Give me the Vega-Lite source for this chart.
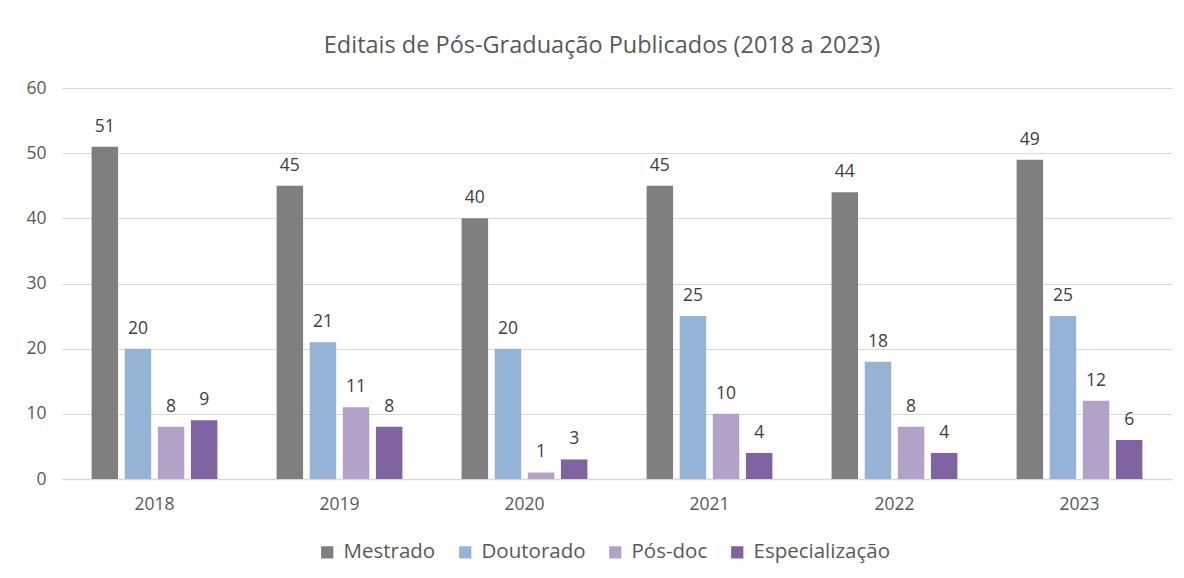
{
  "$schema": "https://vega.github.io/schema/vega-lite/v6.json",
  "width": 1110,
  "height": 391,
  "autosize": {"type": "none"},
  "padding": {"left": 62, "top": 88, "right": 12, "bottom": 99},
  "background": "white",
  "title": {
    "text": "Editais de Pós-Graduação Publicados (2018 a 2023)",
    "font": "Open Sans",
    "fontSize": 23.5,
    "fontWeight": "normal",
    "color": "#595959",
    "anchor": "middle",
    "offset": 22,
    "dx": -15
  },
  "data": {
    "values": [
      {"ano": "2018", "tipo": "Mestrado", "valor": 51},
      {"ano": "2018", "tipo": "Doutorado", "valor": 20},
      {"ano": "2018", "tipo": "Pós-doc", "valor": 8},
      {"ano": "2018", "tipo": "Especialização", "valor": 9},
      {"ano": "2019", "tipo": "Mestrado", "valor": 45},
      {"ano": "2019", "tipo": "Doutorado", "valor": 21},
      {"ano": "2019", "tipo": "Pós-doc", "valor": 11},
      {"ano": "2019", "tipo": "Especialização", "valor": 8},
      {"ano": "2020", "tipo": "Mestrado", "valor": 40},
      {"ano": "2020", "tipo": "Doutorado", "valor": 20},
      {"ano": "2020", "tipo": "Pós-doc", "valor": 1},
      {"ano": "2020", "tipo": "Especialização", "valor": 3},
      {"ano": "2021", "tipo": "Mestrado", "valor": 45},
      {"ano": "2021", "tipo": "Doutorado", "valor": 25},
      {"ano": "2021", "tipo": "Pós-doc", "valor": 10},
      {"ano": "2021", "tipo": "Especialização", "valor": 4},
      {"ano": "2022", "tipo": "Mestrado", "valor": 44},
      {"ano": "2022", "tipo": "Doutorado", "valor": 18},
      {"ano": "2022", "tipo": "Pós-doc", "valor": 8},
      {"ano": "2022", "tipo": "Especialização", "valor": 4},
      {"ano": "2023", "tipo": "Mestrado", "valor": 49},
      {"ano": "2023", "tipo": "Doutorado", "valor": 25},
      {"ano": "2023", "tipo": "Pós-doc", "valor": 12},
      {"ano": "2023", "tipo": "Especialização", "valor": 6}
    ]
  },
  "encoding": {
    "x": {
      "field": "ano",
      "type": "nominal",
      "scale": {"paddingInner": 0.32, "paddingOuter": 0.16},
      "axis": {
        "title": null,
        "labelAngle": 0,
        "labelFont": "Open Sans",
        "labelFontSize": 17.5,
        "labelColor": "#595959",
        "labelPadding": 16,
        "ticks": false,
        "domainColor": "#d9d9d9",
        "domainWidth": 1.5,
        "grid": false
      }
    },
    "xOffset": {
      "field": "tipo",
      "type": "nominal",
      "sort": ["Mestrado", "Doutorado", "Pós-doc", "Especialização"],
      "scale": {"paddingInner": 0.2, "paddingOuter": 0}
    },
    "y": {
      "field": "valor",
      "type": "quantitative",
      "scale": {"domain": [0, 60]},
      "axis": {
        "title": null,
        "values": [0, 10, 20, 30, 40, 50, 60],
        "labelFont": "Open Sans",
        "labelFontSize": 17.5,
        "labelColor": "#595959",
        "labelPadding": 16,
        "ticks": false,
        "domain": false,
        "gridColor": "#d9d9d9",
        "gridWidth": 1.2
      }
    }
  },
  "layer": [
    {
      "mark": {"type": "bar"},
      "encoding": {
        "color": {
          "field": "tipo",
          "type": "nominal",
          "sort": ["Mestrado", "Doutorado", "Pós-doc", "Especialização"],
          "scale": {
            "domain": ["Mestrado", "Doutorado", "Pós-doc", "Especialização"],
            "range": ["#7f7f7f", "#95b3d7", "#b3a2c7", "#8064a2"]
          },
          "legend": {
            "title": null,
            "orient": "none",
            "direction": "horizontal",
            "legendX": 255,
            "legendY": 454,
            "symbolType": "square",
            "symbolSize": 150,
            "symbolStrokeWidth": 0,
            "labelFont": "Open Sans",
            "labelFontSize": 20.5,
            "labelColor": "#595959",
            "labelOffset": 6,
            "columnPadding": 19
          }
        }
      }
    },
    {
      "mark": {
        "type": "text",
        "baseline": "alphabetic",
        "dy": -15,
        "font": "Open Sans",
        "fontSize": 17.5,
        "color": "#404040"
      },
      "encoding": {
        "text": {"field": "valor", "type": "quantitative"}
      }
    }
  ],
  "config": {
    "view": {"stroke": null}
  }
}
